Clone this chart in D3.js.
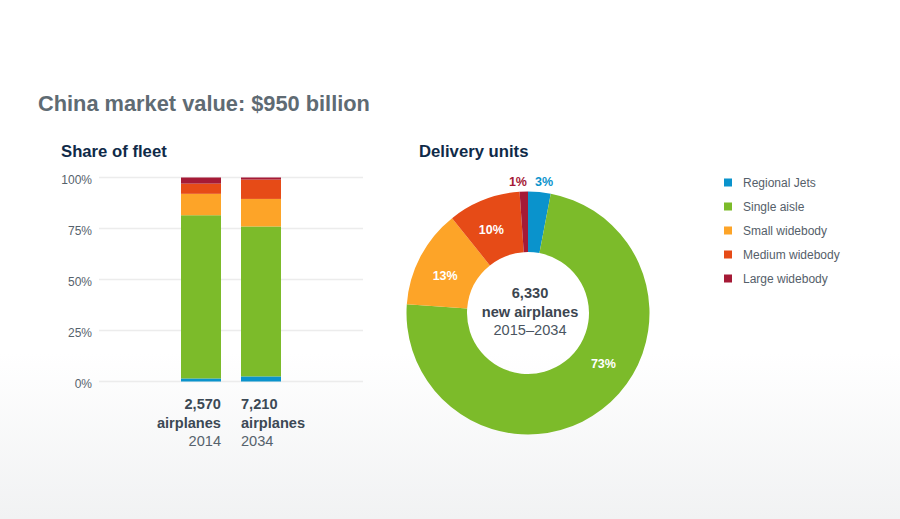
<!DOCTYPE html>
<html>
<head>
<meta charset="utf-8">
<script src="https://cdn.jsdelivr.net/npm/d3@7"></script>
<style>
  html, body { margin: 0; padding: 0; background: #fff; }
  svg { display: block; font-family: "Liberation Sans", Arial, Helvetica, sans-serif; }
</style>
</head>
<body>
<svg id="chart" width="900" height="519"></svg>
<script>
// ---- data ----
const categories = ["Regional Jets", "Single aisle", "Small widebody", "Medium widebody", "Large widebody"];
const colors = ["#0a93cc", "#7cbb2a", "#fda428", "#e64b17", "#a51a36"];
const fleetYears = ["2014", "2034"];
const fleetTotals = ["2,570", "7,210"];
const fleet2014 = [1.5, 80, 10.5, 5, 3];
const fleet2034 = [2.5, 73.5, 13.5, 9.5, 1];
const deliveryUnits = [190, 4630, 830, 610, 70];
const deliveryLabels = ["3%", "73%", "13%", "10%", "1%"];
const yTicks = [0, 25, 50, 75, 100];
const yTickLabels = ["0%", "25%", "50%", "75%", "100%"];
const deliveryTotal = "6,330";

const svg = d3.select("#chart");
const W = 900, H = 519;

// background gradient
const defs = svg.append("defs");
const grad = defs.append("linearGradient").attr("id", "bg").attr("x1", 0).attr("y1", 0).attr("x2", 0).attr("y2", 1);
grad.append("stop").attr("offset", "0.68").attr("stop-color", "#ffffff");
grad.append("stop").attr("offset", "1").attr("stop-color", "#f1f2f3");
svg.append("rect").attr("width", W).attr("height", H).attr("fill", "url(#bg)");

// title
svg.append("text").attr("x", 38).attr("y", 111)
  .attr("font-size", 21.8).attr("font-weight", "bold").attr("fill", "#5f6b73")
  .text("China market value: $950 billion");

svg.append("text").attr("x", 61).attr("y", 157)
  .attr("font-size", 16.7).attr("font-weight", "bold").attr("fill", "#0f2a48")
  .text("Share of fleet");
svg.append("text").attr("x", 419).attr("y", 157)
  .attr("font-size", 16.7).attr("font-weight", "bold").attr("fill", "#0f2a48")
  .text("Delivery units");

// ---- stacked bars ----
const y = d3.scaleLinear().domain([0, 100]).range([381.5, 177.5]);
const x = d3.scaleBand().domain(fleetYears).range([171, 291]).paddingInner(1/3).paddingOuter(1/6);

const grid = svg.append("g");
grid.selectAll("line").data(yTicks).join("line")
  .attr("x1", 99).attr("x2", 363)
  .attr("y1", d => y(d)).attr("y2", d => y(d))
  .attr("stroke", "#ececec").attr("stroke-width", 1.5);
grid.selectAll("text").data(yTicks).join("text")
  .attr("x", 92).attr("y", d => y(d) + 2)
  .attr("dy", "0.35em").attr("text-anchor", "end")
  .attr("font-size", 12).attr("fill", "#56626c")
  .text((d, i) => yTickLabels[i]);

const fleetRows = fleetYears.map((yr, i) => {
  const vals = i === 0 ? fleet2014 : fleet2034;
  const o = { year: yr };
  categories.forEach((c, j) => o[c] = vals[j]);
  return o;
});
const stack = d3.stack().keys(categories)(fleetRows);
svg.append("g").selectAll("g").data(stack).join("g")
  .attr("fill", (d, i) => colors[i])
  .selectAll("rect").data(d => d).join("rect")
  .attr("x", d => x(d.data.year))
  .attr("width", x.bandwidth())
  .attr("y", d => y(d[1]))
  .attr("height", d => y(d[0]) - y(d[1]));

// bar labels
fleetYears.forEach((yr, i) => {
  const anchor = i === 0 ? "end" : "start";
  const tx = i === 0 ? x(yr) + x.bandwidth() : x(yr);
  const g = svg.append("g").attr("text-anchor", anchor).attr("font-size", 14.6);
  g.append("text").attr("x", tx).attr("y", 409).attr("font-weight", "bold").attr("fill", "#3c4955").text(fleetTotals[i]);
  g.append("text").attr("x", tx).attr("y", 427.5).attr("font-weight", "bold").attr("fill", "#3c4955").text("airplanes");
  g.append("text").attr("x", tx).attr("y", 445.5).attr("fill", "#56626c").text(yr);
});

// ---- donut ----
const cx = 528, cy = 313, rOuter = 121.5, rInner = 61;
const pie = d3.pie().sort(null).value(d => d)(deliveryUnits);
const arc = d3.arc().innerRadius(rInner).outerRadius(rOuter);
const dg = svg.append("g").attr("transform", `translate(${cx},${cy})`);
dg.selectAll("path").data(pie).join("path")
  .attr("d", arc).attr("fill", (d, i) => colors[i]);

pie.forEach((d, i) => {
  const span = d.endAngle - d.startAngle;
  if (span > 0.2) {
    const a = d.startAngle + 0.43 * span, r = 91;
    dg.append("text")
      .attr("x", r * Math.sin(a)).attr("y", -r * Math.cos(a))
      .attr("dy", "0.35em").attr("text-anchor", "middle")
      .attr("font-size", 12.5).attr("font-weight", "bold").attr("fill", "#ffffff")
      .text(deliveryLabels[i]);
  } else {
    const a = (d.startAngle + d.endAngle) / 2, r = 131;
    const right = Math.sin(a) >= 0;
    const a2 = right ? d.startAngle : d.endAngle;
    dg.append("text")
      .attr("x", right ? r * Math.sin(a2) + 7 : r * Math.sin(a2) - 1)
      .attr("y", -r * Math.cos(a2))
      .attr("dy", "0.35em").attr("text-anchor", right ? "start" : "end")
      .attr("font-size", 12.5).attr("font-weight", "bold").attr("fill", colors[i])
      .text(deliveryLabels[i]);
  }
});

const ct = dg.append("g").attr("text-anchor", "middle").attr("font-size", 14.6);
ct.append("text").attr("x", 2).attr("y", -15).attr("font-weight", "bold").attr("fill", "#3c4650").text(deliveryTotal);
ct.append("text").attr("x", 2).attr("y", 3.5).attr("font-weight", "bold").attr("fill", "#3c4650").text("new airplanes");
ct.append("text").attr("x", 2).attr("y", 22).attr("fill", "#4a5560").text("2015–2034");

// ---- legend ----
const lg = svg.append("g").attr("transform", "translate(724,182.5)");
const rows = lg.selectAll("g").data(categories).join("g")
  .attr("transform", (d, i) => `translate(0,${i * 24})`);
rows.append("rect").attr("x", 0).attr("y", -4).attr("width", 8).attr("height", 8)
  .attr("fill", (d, i) => colors[i]);
rows.append("text").attr("x", 19).attr("y", 0).attr("dy", "0.35em")
  .attr("font-size", 12).attr("fill", "#55606a").text(d => d);
</script>
</body>
</html>
